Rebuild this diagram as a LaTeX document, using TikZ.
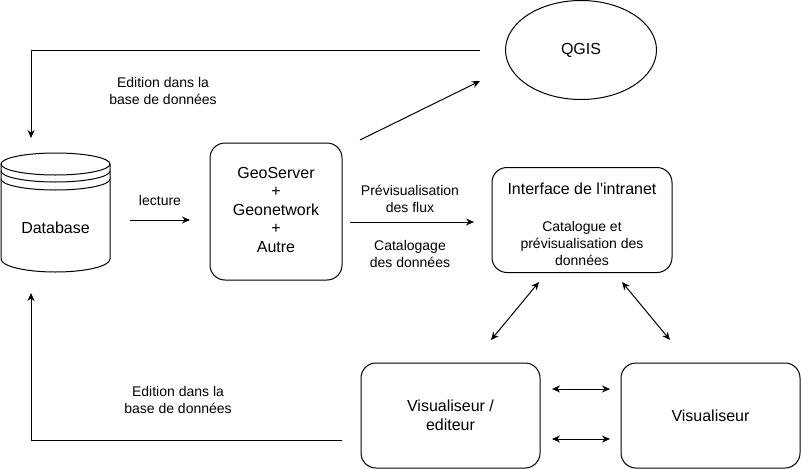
\documentclass[tikz,border=0pt]{standalone}
\usepackage{fontspec}
\setmainfont{Liberation Sans}[Ligatures=TeXOff]
\usetikzlibrary{positioning, arrows.meta, shapes.geometric}

\begin{document}
\begin{tikzpicture}[x=1pt, y=-1pt, line width=1pt,
    box/.style={rectangle, rounded corners=15pt, draw},
    big/.style={font=\fontsize{16}{18.5}\selectfont, align=center, inner sep=0pt},
    lbl/.style={font=\fontsize{14}{17}\selectfont, align=center, inner sep=0pt},
    arr/.style={-{Stealth[length=8pt, width=7pt]}},
    darr/.style={{Stealth[length=8pt, width=7pt]}-{Stealth[length=8pt, width=7pt]}}]

    \useasboundingbox (0,0) rectangle (801,469);

    % database
    \draw (1,164) -- (1,259) arc[start angle=180, end angle=0, x radius=54.5, y radius=13] -- (110,164);
    \draw (55.5,164) ellipse[x radius=54.5, y radius=11];
    \draw (1,171) arc[start angle=180, end angle=0, x radius=54.5, y radius=11];
    \draw (1,179) arc[start angle=180, end angle=0, x radius=54.5, y radius=11];
    \node[big] (db) at (55.5,228) {Database};

    \node[box, minimum width=132, minimum height=137] (geo) at (276,211.5) {};
    \node[big] (geotxt) at ([yshift=2pt]geo.center) {GeoServer\\+\\Geonetwork\\+\\Autre};

    \node[ellipse, draw, minimum width=151, minimum height=99] (qgis) at (581,50) {};
    \node[big] (qgistxt) at (qgis.center) {QGIS};

    \node[box, minimum width=180, minimum height=105] (intra) at (582,220) {};
    \node[big] (intratitle) at (582,189) {Interface de l'intranet};
    \node[lbl] (intracat) at (582,243) {Catalogue et\\prévisualisation des\\données};

    \node[box, minimum width=179, minimum height=105] (vised) at (450.5,415.5) {};
    \node[big] (visedtxt) at (vised.center) {Visualiseur /\\editeur};
    \node[box, minimum width=179, minimum height=105] (vis) at (710.5,415.5) {};
    \node[big] (vistxt) at (vis.center) {Visualiseur};

    % free ends of the connectors
    \coordinate (edit1) at (480,50);
    \coordinate (edit2) at (31,138);
    \coordinate (edit3) at (342,440);
    \coordinate (edit4) at (31,293);
    \coordinate (lec1) at (130,220);
    \coordinate (lec2) at (190,220);
    \coordinate (qg1) at (360,140);
    \coordinate (qg2) at (480,81);
    \coordinate (fl1) at (350,222);
    \coordinate (fl2) at (474,222);
    \coordinate (d1a) at (539,282);
    \coordinate (d1b) at (491,340);
    \coordinate (d2a) at (622,282);
    \coordinate (d2b) at (670,340);
    \coordinate (h1a) at (552,389);
    \coordinate (h1b) at (610,389);
    \coordinate (h2a) at (552,439);
    \coordinate (h2b) at (610,439);

    \draw[arr] (edit1) -| (edit2);
    \draw[arr] (edit3) -| (edit4);
    \draw[arr] (lec1) -- (lec2);
    \draw[arr] (qg1) -- (qg2);
    \draw[arr] (fl1) -- (fl2);
    \draw[darr] (d1a) -- (d1b);
    \draw[darr] (d2a) -- (d2b);
    \draw[darr] (h1a) -- (h1b);
    \draw[darr] (h2a) -- (h2b);

    \node[lbl] (edittop) at (163,91) {Edition dans la\\base de données};
    \node[lbl] (editbot) at (178,400) {Edition dans la\\base de données};
    \node[lbl] (lecture) at (160,200) {lecture};
    \node[lbl] (previs) at (410,199) {Prévisualisation\\des flux};
    \node[lbl] (catal) at (410,254) {Catalogage\\des données};

\end{tikzpicture}
\end{document}
